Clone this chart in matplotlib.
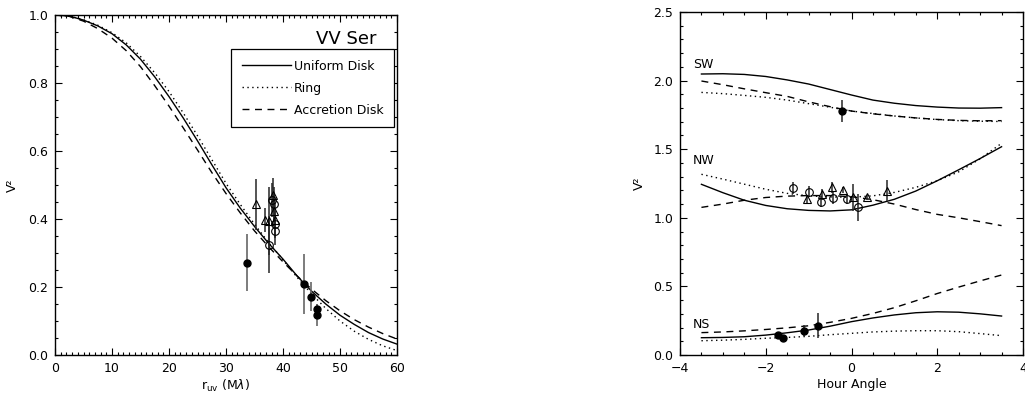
import matplotlib
matplotlib.use("Agg")
import matplotlib.pyplot as plt
from matplotlib.ticker import MultipleLocator

plt.rcParams['font.family'] = ['DejaVu Sans']

# ---------------- left panel data ----------------
r_model = [0, 2.5, 5, 7.5, 10, 12.5, 15, 17.5, 20, 22.5, 25, 27.5, 30, 32.5,
           35, 37.5, 40, 42.5, 45, 47.5, 50, 52.5, 55, 57.5, 60]
v2_uniform = [1.000, 0.997, 0.985, 0.968, 0.945, 0.912, 0.870, 0.818, 0.760,
              0.697, 0.630, 0.560, 0.492, 0.432, 0.378, 0.328, 0.282, 0.232,
              0.188, 0.150, 0.117, 0.090, 0.066, 0.047, 0.032]
v2_ring = [1.000, 0.997, 0.986, 0.970, 0.948, 0.918, 0.878, 0.830, 0.775,
           0.712, 0.645, 0.575, 0.505, 0.443, 0.385, 0.330, 0.280, 0.228,
           0.180, 0.137, 0.100, 0.070, 0.046, 0.027, 0.013]
v2_accretion = [1.000, 0.996, 0.982, 0.960, 0.932, 0.895, 0.848, 0.792, 0.732,
                0.668, 0.603, 0.537, 0.475, 0.418, 0.365, 0.318, 0.274, 0.232,
                0.194, 0.160, 0.130, 0.104, 0.082, 0.063, 0.047]

fill_r = [33.7, 43.6, 44.9, 46.0, 46.0]
fill_v = [0.272, 0.209, 0.172, 0.134, 0.117]
fill_e = [0.083, 0.087, 0.043, 0.015, 0.032]

tri_r = [35.3, 36.8, 37.6, 38.2, 38.5, 38.6]
tri_v = [0.443, 0.397, 0.395, 0.470, 0.423, 0.398]
tri_e = [0.075, 0.035, 0.100, 0.050, 0.050, 0.050]

circ_r = [37.5, 38.1, 38.4, 38.6, 38.6]
circ_v = [0.325, 0.455, 0.445, 0.385, 0.365]
circ_e = [0.085, 0.050, 0.050, 0.040, 0.040]

# ---------------- right panel data ----------------
ha_sw = [-3.5, -3.0, -2.5, -2.0, -1.5, -1.0, -0.5, 0.0, 0.5, 1.0, 1.5, 2.0, 2.5, 3.0, 3.5]
sw_uniform = [2.048, 2.050, 2.045, 2.030, 2.005, 1.975, 1.935, 1.895, 1.858, 1.835,
              1.818, 1.807, 1.800, 1.799, 1.803]
sw_ring = [1.914, 1.905, 1.892, 1.878, 1.858, 1.832, 1.806, 1.778, 1.760, 1.742,
           1.728, 1.716, 1.708, 1.704, 1.702]
sw_accretion = [1.997, 1.970, 1.940, 1.912, 1.885, 1.845, 1.810, 1.778, 1.758, 1.742,
                1.728, 1.717, 1.710, 1.707, 1.708]

ha_nw = [-3.5, -3.0, -2.5, -2.0, -1.5, -1.0, -0.5, 0.0, 0.5, 1.0, 1.5, 2.0, 2.5, 3.0, 3.5]
nw_uniform = [1.244, 1.183, 1.128, 1.090, 1.066, 1.054, 1.050, 1.058, 1.092, 1.135,
              1.195, 1.270, 1.350, 1.432, 1.518]
nw_ring = [1.317, 1.282, 1.245, 1.208, 1.178, 1.160, 1.152, 1.150, 1.160, 1.185,
           1.222, 1.270, 1.335, 1.430, 1.543]
nw_accretion = [1.076, 1.100, 1.128, 1.148, 1.158, 1.162, 1.162, 1.154, 1.132, 1.100,
                1.060, 1.025, 1.000, 0.972, 0.943]

ha_ns = [-3.5, -3.0, -2.5, -2.0, -1.5, -1.0, -0.5, 0.0, 0.5, 1.0, 1.5, 2.0, 2.5, 3.0, 3.5]
ns_uniform = [0.126, 0.128, 0.133, 0.145, 0.162, 0.182, 0.210, 0.243, 0.270, 0.292,
              0.308, 0.315, 0.312, 0.300, 0.284]
ns_ring = [0.104, 0.108, 0.114, 0.122, 0.128, 0.136, 0.148, 0.158, 0.168, 0.174,
           0.177, 0.177, 0.170, 0.156, 0.141]
ns_accretion = [0.163, 0.168, 0.176, 0.186, 0.198, 0.213, 0.238, 0.267, 0.303, 0.345,
                0.395, 0.448, 0.495, 0.540, 0.583]

sw_pt_h = [-0.23]
sw_pt_v = [1.778]
sw_pt_e = [0.080]

nw_circ_h = [-1.36, -1.00, -0.72, -0.42, -0.11, 0.14]
nw_circ_v = [1.215, 1.190, 1.118, 1.147, 1.139, 1.076]
nw_circ_e = [0.045, 0.040, 0.040, 0.045, 0.035, 0.100]

nw_tri_h = [-1.04, -0.69, -0.45, -0.20, 0.04, 0.37, 0.82]
nw_tri_v = [1.137, 1.173, 1.222, 1.203, 1.149, 1.149, 1.198]
nw_tri_e = [0.030, 0.040, 0.040, 0.020, 0.100, 0.020, 0.075]

ns_pt_h = [-1.72, -1.59, -1.10, -0.77]
ns_pt_v = [0.146, 0.126, 0.177, 0.214]
ns_pt_e = [0.010, 0.010, 0.040, 0.090]

baseline_labels = ["SW", "NW", "NS"]
baseline_label_y = [2.12, 1.42, 0.22]

# ---------------- figure ----------------
W, H = 1025, 393
fig = plt.figure(figsize=(W / 100, H / 100), dpi=100)

def px_axes(l, t, r, b):
    return fig.add_axes([l / W, 1 - b / H, (r - l) / W, (b - t) / H])

def style_axes(ax):
    for s in ax.spines.values():
        s.set_linewidth(1.0)
    ax.tick_params(which='both', direction='in', top=True, right=True,
                   labelsize=9, width=0.8)
    ax.tick_params(which='major', length=5, pad=5)
    ax.tick_params(which='minor', length=2.5)

lw = 1.0
eb_kw = dict(fmt='none', ecolor='0.15', elinewidth=1.1, capsize=0)

# ---- left ----
ax1 = px_axes(55, 15, 397, 355)
ax1.plot(r_model, v2_uniform, color='black', lw=lw, ls='-', label='Uniform Disk')
ax1.plot(r_model, v2_ring, color='black', lw=lw, ls=(0, (1, 2.5)), label='Ring')
ax1.plot(r_model, v2_accretion, color='black', lw=lw, ls=(0, (5, 4)), label='Accretion Disk')

ax1.errorbar(fill_r, fill_v, yerr=fill_e, fmt='none', ecolor='0.4', elinewidth=1.2, capsize=0)
ax1.errorbar(tri_r, tri_v, yerr=tri_e, **eb_kw)
ax1.errorbar(circ_r, circ_v, yerr=circ_e, **eb_kw)
ax1.plot(fill_r, fill_v, 'o', color='black', ms=5, ls='none')
ax1.plot(tri_r, tri_v, '^', mfc='none', mec='black', mew=0.8, ms=5.5, ls='none')
ax1.plot(circ_r, circ_v, 'o', mfc='none', mec='black', mew=0.8, ms=5.5, ls='none')

ax1.set_xlim(0, 60)
ax1.set_ylim(0, 1.0)
ax1.xaxis.set_major_locator(MultipleLocator(10))
ax1.xaxis.set_minor_locator(MultipleLocator(1))
ax1.yaxis.set_major_locator(MultipleLocator(0.2))
ax1.yaxis.set_minor_locator(MultipleLocator(0.05))
ax1.yaxis.set_major_formatter(matplotlib.ticker.FormatStrFormatter('%.1f'))
style_axes(ax1)
ax1.set_xlabel(r'r$_{\rm uv}$ (M$\lambda$)', fontsize=9, labelpad=2)
ax1.set_ylabel('V²', fontsize=9)
ax1.yaxis.set_label_coords(-0.105, 0.5)
ax1.text(0.94, 0.93, 'VV Ser', transform=ax1.transAxes, ha='right', va='center',
         fontsize=13)
leg = ax1.legend(loc='upper right', bbox_to_anchor=(0.991, 0.9), fontsize=9,
                 frameon=True, fancybox=False, edgecolor='black', framealpha=1,
                 handlelength=3.9, handletextpad=0.25, labelspacing=0.72,
                 borderpad=0.85, borderaxespad=0)
leg.get_frame().set_linewidth(0.9)

# ---- right ----
ax2 = px_axes(680, 12, 1023, 355)
for h, uni, ring, acc in [(ha_sw, sw_uniform, sw_ring, sw_accretion),
                          (ha_nw, nw_uniform, nw_ring, nw_accretion),
                          (ha_ns, ns_uniform, ns_ring, ns_accretion)]:
    ax2.plot(h, uni, color='black', lw=lw, ls='-')
    ax2.plot(h, ring, color='black', lw=lw, ls=(0, (1, 2.5)))
    ax2.plot(h, acc, color='black', lw=lw, ls=(0, (5, 4)))

ax2.errorbar(sw_pt_h, sw_pt_v, yerr=sw_pt_e, **eb_kw)
ax2.errorbar(nw_circ_h, nw_circ_v, yerr=nw_circ_e, **eb_kw)
ax2.errorbar(nw_tri_h, nw_tri_v, yerr=nw_tri_e, **eb_kw)
ax2.errorbar(ns_pt_h, ns_pt_v, yerr=ns_pt_e, **eb_kw)
ax2.plot(sw_pt_h, sw_pt_v, 'o', color='black', ms=5, ls='none')
ax2.plot(ns_pt_h, ns_pt_v, 'o', color='black', ms=5, ls='none')
ax2.plot(nw_circ_h, nw_circ_v, 'o', mfc='none', mec='black', mew=0.8, ms=5.5, ls='none')
ax2.plot(nw_tri_h, nw_tri_v, '^', mfc='none', mec='black', mew=0.8, ms=5.5, ls='none')

for lab, yv in zip(baseline_labels, baseline_label_y):
    ax2.text(-3.7, yv, lab, fontsize=9, ha='left', va='center')

ax2.set_xlim(-4, 4)
ax2.set_ylim(0, 2.5)
ax2.xaxis.set_major_locator(MultipleLocator(2))
ax2.xaxis.set_minor_locator(MultipleLocator(0.5))
ax2.yaxis.set_major_locator(MultipleLocator(0.5))
ax2.yaxis.set_minor_locator(MultipleLocator(0.1))
ax2.yaxis.set_major_formatter(matplotlib.ticker.FormatStrFormatter('%.1f'))
style_axes(ax2)
ax2.set_xlabel('Hour Angle', fontsize=9, labelpad=2)
ax2.set_ylabel('V²', fontsize=9)
ax2.yaxis.set_label_coords(-0.099, 0.5)

fig.savefig('out.png', dpi=100)
